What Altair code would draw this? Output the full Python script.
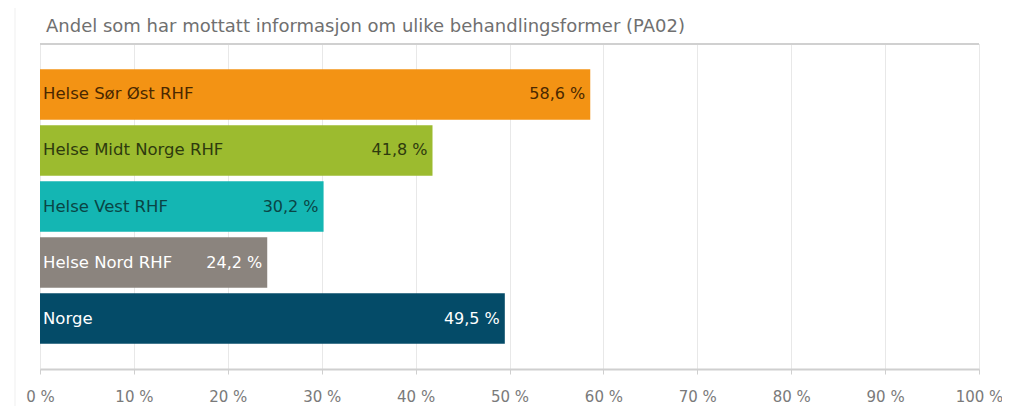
import altair as alt
import pandas as pd

title_text = "Andel som har mottatt informasjon om ulike behandlingsformer (PA02)"
regions = ["Helse Sør Øst RHF", "Helse Midt Norge RHF", "Helse Vest RHF", "Helse Nord RHF", "Norge"]
values = [58.6, 41.8, 30.2, 24.2, 49.5]
bar_colors = ["#F39314", "#9CBB2F", "#14B6B3", "#8B847E", "#044B68"]
text_colors = ["#4a2800", "#2e3a0e", "#0a4545", "#ffffff", "#ffffff"]
ticks = [0, 10, 20, 30, 40, 50, 60, 70, 80, 90, 100]

df = pd.DataFrame({
    "region": regions,
    "value": values,
    "label": [f"{v:.1f}".replace(".", ",") + " %" for v in values],
    "bar_color": bar_colors,
    "text_color": text_colors,
})

FONT = "DejaVu Sans"
W, H = 939, 325

x_enc = alt.X("value:Q",
              scale=alt.Scale(domain=[0, 100], nice=False),
              axis=alt.Axis(values=ticks, labelExpr="datum.value + ' %'", title=None,
                            grid=True, gridColor="#e8e8e8", gridWidth=1,
                            domainColor="#cfcfcf", domainWidth=2,
                            tickColor="#cfcfcf", tickSize=5,
                            labelColor="#7a7a7a", labelFont=FONT, labelFontSize=15,
                            labelPadding=15, labelFlush=False))
y_enc = alt.Y("region:N", sort=regions,
              scale=alt.Scale(paddingInner=0.1, paddingOuter=0.45),
              axis=None)

base = alt.Chart(df)

bars = base.mark_bar().encode(
    x=x_enc,
    y=y_enc,
    color=alt.Color("bar_color:N", scale=None),
)

cat_labels = base.mark_text(align="left", baseline="middle", dx=3, font=FONT, fontSize=16.5).encode(
    x=alt.datum(0),
    y=y_enc,
    text="region:N",
    color=alt.Color("text_color:N", scale=None),
)

val_labels = base.mark_text(align="right", baseline="middle", dx=-5, font=FONT, fontSize=16).encode(
    x="value:Q",
    y=y_enc,
    text="label:N",
    color=alt.Color("text_color:N", scale=None),
)

top_rule = alt.Chart(pd.DataFrame({"a": [0]})).mark_rule(color="#d0d0d0", strokeWidth=2).encode(
    x=alt.value(0), x2=alt.value(W), y=alt.value(0)
)

title_mark = alt.Chart(pd.DataFrame({"t": [title_text]})).mark_text(
    align="left", baseline="middle", font=FONT, fontSize=18, color="#707070"
).encode(x=alt.value(6), y=alt.value(-17), text="t:N")

card_border = alt.Chart(pd.DataFrame({"a": [0]})).mark_rule(color="#efefef", strokeWidth=1).encode(
    x=alt.value(-25), y=alt.value(-36), y2=alt.value(H + 45)
)

chart = alt.layer(card_border, bars, cat_labels, val_labels, top_rule, title_mark).properties(
    width=W, height=H,
    autosize=alt.AutoSizeParams(type="none"),
    padding={"left": 32, "top": 36, "right": 23, "bottom": 40},
).configure_view(stroke=None).configure(background="white")

chart.save("out.html", embed_options={"renderer": "svg", "actions": False})
